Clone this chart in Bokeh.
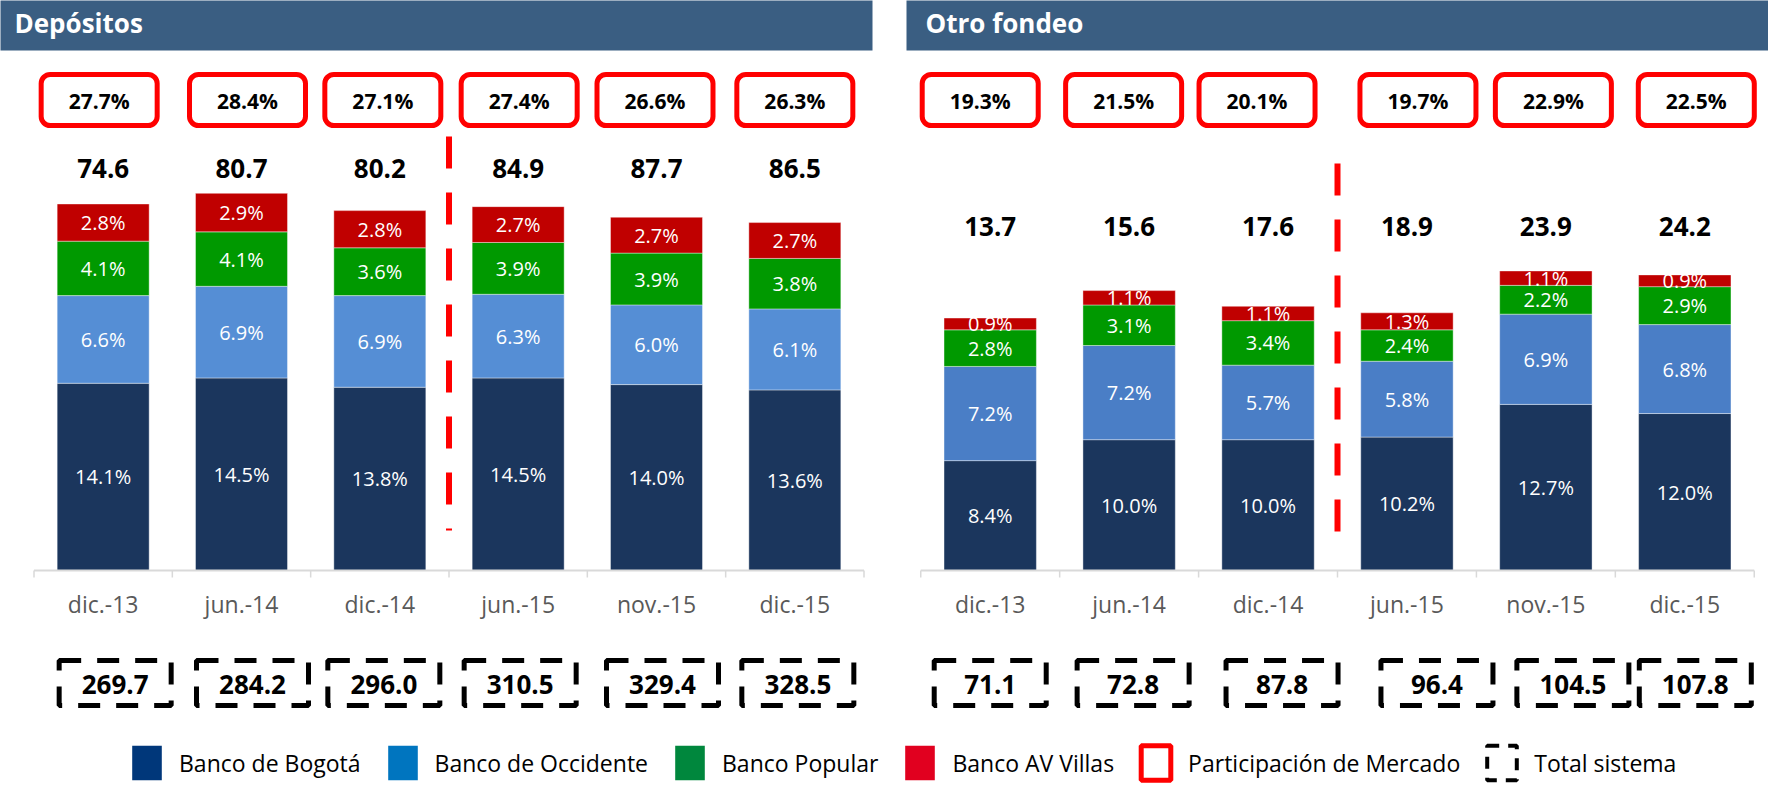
from bokeh.plotting import figure
from bokeh.models import FactorRange, Range1d, Spacer, Legend, LegendItem, ColumnDataSource
from bokeh.layouts import row, column
from bokeh.core.properties import value
from bokeh.embed import file_html
from bokeh.resources import INLINE

# ---------------- data ----------------
categories = ["dic.-13", "jun.-14", "dic.-14", "jun.-15", "nov.-15", "dic.-15"]

dep_bogota = [14.1, 14.5, 13.8, 14.5, 14.0, 13.6]
dep_occidente = [6.6, 6.9, 6.9, 6.3, 6.0, 6.1]
dep_popular = [4.1, 4.1, 3.6, 3.9, 3.9, 3.8]
dep_avvillas = [2.8, 2.9, 2.8, 2.7, 2.7, 2.7]
dep_share = [27.7, 28.4, 27.1, 27.4, 26.6, 26.3]
dep_total = [74.6, 80.7, 80.2, 84.9, 87.7, 86.5]
dep_system = [269.7, 284.2, 296.0, 310.5, 329.4, 328.5]

of_bogota = [8.4, 10.0, 10.0, 10.2, 12.7, 12.0]
of_occidente = [7.2, 7.2, 5.7, 5.8, 6.9, 6.8]
of_popular = [2.8, 3.1, 3.4, 2.4, 2.2, 2.9]
of_avvillas = [0.9, 1.1, 1.1, 1.3, 1.1, 0.9]
of_share = [19.3, 21.5, 20.1, 19.7, 22.9, 22.5]
of_total = [13.7, 15.6, 17.6, 18.9, 23.9, 24.2]
of_system = [71.1, 72.8, 87.8, 96.4, 104.5, 107.8]

legend_labels = ["Banco de Bogotá", "Banco de Occidente", "Banco Popular",
                 "Banco AV Villas", "Participación de Mercado", "Total sistema"]

# ---------------- style ----------------
FONT = "Open Sans"
HDR = "#3A5E82"
C_BOG = "#1B365D"
C_POP = "#009900"
C_AVV = "#C00000"

W_L, W_GAP, W_R = 897, 9, 862
H_P, H_LEG = 720, 66
BASE = 570.0  # baseline pixel from top of panel

# small horizontal nudges (px) of the annotation boxes, as in the original slide
L_SHARE_NUDGE = [-4, 6, 3, 1, -1.5, 0]
L_SYS_NUDGE = [12, 11, 4, 2, 6, 3]
R_SHARE_NUDGE = [-10, -5.5, -11, 11, 7.5, 11.5]
R_SYS_NUDGE = [0, 4, 14, 30, 27, 10.5]


def make_panel(title, width, pad_px, k, bog, occ, pop, avv, share, total, system,
               occ_color, total_y, dash_top, dash_bot, title_x, hdr_right,
               share_nudge, sys_nudge):
    n = len(categories)
    spacing = (width - 2 * pad_px) / n
    rp = 2 * (pad_px / spacing) / n
    y_end = BASE / k
    y_start = -(H_P - BASE) / k

    def Y(px):
        return (BASE - px) / k

    def X(px):
        return (px - pad_px) / spacing

    share_x = [i + 0.5 + d / spacing for i, d in enumerate(share_nudge)]
    sys_x = [i + 0.5 + d / spacing for i, d in enumerate(sys_nudge)]

    p = figure(x_range=FactorRange(factors=categories, range_padding=rp,
                                   range_padding_units="percent"),
               y_range=Range1d(y_start, y_end), width=width, height=H_P,
               toolbar_location=None, output_backend="svg", min_border=0,
               y_axis_location=None, outline_line_color=None)
    p.xgrid.visible = False
    p.ygrid.visible = False
    p.background_fill_color = "white"
    p.border_fill_color = "white"

    # header band
    p.quad(left=[X(-30)], right=[X(hdr_right)], top=[Y(-10)], bottom=[Y(50)],
           fill_color=HDR, line_color=None)
    first_center = pad_px + 0.5 * spacing
    p.text(x=[categories[0]], y=[Y(22.5)], text=[title], text_font=value(FONT),
           x_offset=title_x - first_center,
           text_font_style="bold", text_font_size="26px", text_color="white",
           text_baseline="middle", text_align="left")

    # market share boxes
    p.rect(x=share_x, y=[Y(99.5)] * n, width=116, height=51,
           width_units="screen", height_units="screen", fill_color="white",
           line_color="#FF0000", line_width=5, border_radius=9)
    p.text(x=share_x, y=[Y(100.5)] * n, text=[f"{v:.1f}%" for v in share],
           text_font=value(FONT), text_font_style="bold", text_font_size="21px",
           text_color="black", text_align="center", text_baseline="middle")

    # totals of the group
    p.text(x=categories, y=[Y(total_y)] * n, text=[f"{v:.1f}" for v in total],
           text_font=value(FONT), text_font_style="bold", text_font_size="26px",
           text_color="black", text_align="center", text_baseline="middle")

    # stacked bars
    src = ColumnDataSource(dict(cat=categories, bog=bog, occ=occ, pop=pop, avv=avv))
    p.vbar_stack(["bog", "occ", "pop", "avv"], x="cat", width=0.665, source=src,
                 fill_color=[C_BOG, occ_color, C_POP, C_AVV],
                 line_color="white", line_width=0.8, line_alpha=0.5)

    xs, ys, ts = [], [], []
    for i, c in enumerate(categories):
        base = 0.0
        for s in (bog, occ, pop, avv):
            v = s[i]
            xs.append(c)
            ys.append(base + v / 2)
            ts.append(f"{v:.1f}%")
            base += v
    p.text(x=xs, y=ys, text=ts, text_font=value(FONT), text_font_size="20px",
           text_color="white", text_align="center", text_baseline="middle")

    # baseline + boundary ticks
    p.segment(x0=[0], y0=[0], x1=[n], y1=[0], line_color="#D9D9D9", line_width=2)
    p.segment(x0=list(range(n + 1)), y0=[0] * (n + 1), x1=list(range(n + 1)),
              y1=[Y(BASE + 7)] * (n + 1), line_color="#D9D9D9", line_width=1.5)

    # red dashed separator
    p.segment(x0=[3], y0=[Y(dash_top)], x1=[3], y1=[Y(dash_bot)],
              line_color="#FF0000", line_width=6, line_dash="32 24")

    # total system boxes
    p.rect(x=sys_x, y=[Y(682.5)] * n, width=112, height=45,
           width_units="screen", height_units="screen", fill_color=None,
           line_color="black", line_width=5, line_dash="22 16")
    p.text(x=sys_x, y=[Y(684)] * n, text=[f"{v:.1f}" for v in system],
           text_font=value(FONT), text_font_style="bold", text_font_size="26px",
           text_color="black", text_align="center", text_baseline="middle")

    ax = p.xaxis[0]
    ax.fixed_location = 0
    ax.axis_line_color = None
    ax.major_tick_line_color = None
    ax.minor_tick_line_color = None
    ax.major_label_text_font = FONT
    ax.major_label_text_font_size = "23px"
    ax.major_label_text_color = "#595959"
    ax.major_label_standoff = 11
    return p


p1 = make_panel("Depósitos", W_L, 33.5, 13.28, dep_bogota, dep_occidente, dep_popular,
                dep_avvillas, dep_share, dep_total, dep_system, "#558ED5",
                168, 136, 530, 14, 872, L_SHARE_NUDGE, L_SYS_NUDGE)
p2 = make_panel("Otro fondeo", W_R, 14.25, 13.08, of_bogota, of_occidente, of_popular,
                of_avvillas, of_share, of_total, of_system, "#4A7EC6",
                226, 163, 531, 19, W_R + 30, R_SHARE_NUDGE, R_SYS_NUDGE)

# ---------------- legend ----------------
pl = figure(width=W_L + W_GAP + W_R, height=H_LEG, x_range=Range1d(0, 1),
            y_range=Range1d(0, 1), toolbar_location=None, output_backend="svg",
            min_border=0, outline_line_color=None, x_axis_location=None,
            y_axis_location=None)
pl.xgrid.visible = False
pl.ygrid.visible = False
leg_colors = ["#00377A", "#0075BF", "#00873D", "#E1001F"]
rends = []
for c in leg_colors:
    rends.append(pl.rect(x=[-5], y=[-5], width=0.1, height=0.1, fill_color=c, line_color=None))
rends.append(pl.rect(x=[-5], y=[-5], width=0.1, height=0.1, fill_color="white",
                     line_color="#FF0000", line_width=5))
rends.append(pl.rect(x=[-5], y=[-5], width=0.1, height=0.1, fill_color=None,
                     line_color="black", line_width=4, line_dash="12 9"))
legend = Legend(items=[LegendItem(label=value(lbl), renderers=[r])
                       for lbl, r in zip(legend_labels, rends)],
                location=(128, 2), orientation="horizontal", spacing=23,
                label_standoff=14, glyph_width=37, glyph_height=43, padding=0,
                margin=0, border_line_color=None, background_fill_alpha=0,
                label_text_font=FONT, label_text_font_size="23px",
                label_text_color="black")
pl.add_layout(legend)

layout = column(row(p1, Spacer(width=W_GAP, height=H_P), p2), pl)

open("out.html", "w").write(file_html(layout, INLINE))
